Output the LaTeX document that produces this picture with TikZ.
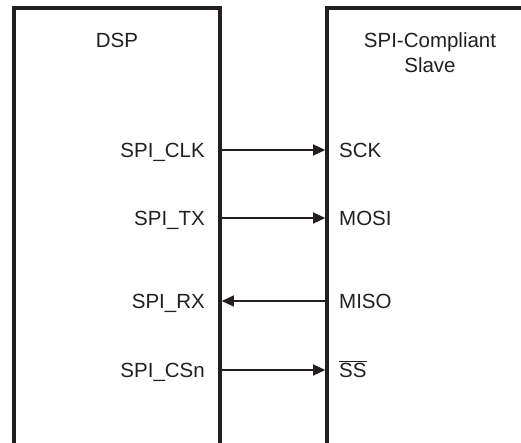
\documentclass[tikz,border=0pt]{standalone}
\usepackage{fontspec}
\setmainfont{Liberation Sans}
\usetikzlibrary{arrows.meta}
\definecolor{ink}{RGB}{35,31,32}
\tikzset{
  boxline/.style={draw=ink, line width=3.5pt},
  sig/.style={draw=ink, line width=1.2pt, -{Triangle[length=12pt,width=11pt]}},
  lbl/.style={inner sep=0pt, text=ink, font=\fontsize{20.5}{25}\selectfont},
}
\begin{document}
\begin{tikzpicture}[x=1pt,y=-1pt]
\useasboundingbox (0,0) rectangle (521,442);
% boxes (open at the bottom; slave box runs off the right edge)
\draw[boxline] (14,445) -- (14,8) -- (220,8) -- (220,445);
\draw[boxline] (327,445) -- (327,8) -- (525,8);
% titles
\node[lbl, anchor=base] (dsp) at (117,47) {DSP};
\node[lbl, anchor=base, align=center] (slave) at (430,72) {SPI-Compliant\\Slave};
% pins
\coordinate (dclk) at (221.8,150);
\coordinate (dtx)  at (221.8,218);
\coordinate (drx)  at (221.8,301);
\coordinate (dcs)  at (221.8,370);
\coordinate (sclk) at (325.2,150);
\coordinate (stx)  at (325.2,218);
\coordinate (srx)  at (325.2,301);
\coordinate (scs)  at (325.2,370);
% labels
\node[lbl, anchor=base east] (lclk) at (205,157) {SPI\_CLK};
\node[lbl, anchor=base east] (ltx)  at (205,225) {SPI\_TX};
\node[lbl, anchor=base east] (lrx)  at (205,308) {SPI\_RX};
\node[lbl, anchor=base east] (lcs)  at (205,377) {SPI\_CSn};
\node[lbl, anchor=base west] (rclk) at (339,157) {SCK};
\node[lbl, anchor=base west] (rtx)  at (339,225) {MOSI};
\node[lbl, anchor=base west] (rrx)  at (339,308) {MISO};
\node[lbl, anchor=base west] (rcs)  at (339,377) {$\overline{\mbox{SS}}$};
% signals
\draw[sig] (dclk) -- (sclk);
\draw[sig] (dtx) -- (stx);
\draw[sig] (srx) -- (drx);
\draw[sig] (dcs) -- (scs);
\end{tikzpicture}
\end{document}
